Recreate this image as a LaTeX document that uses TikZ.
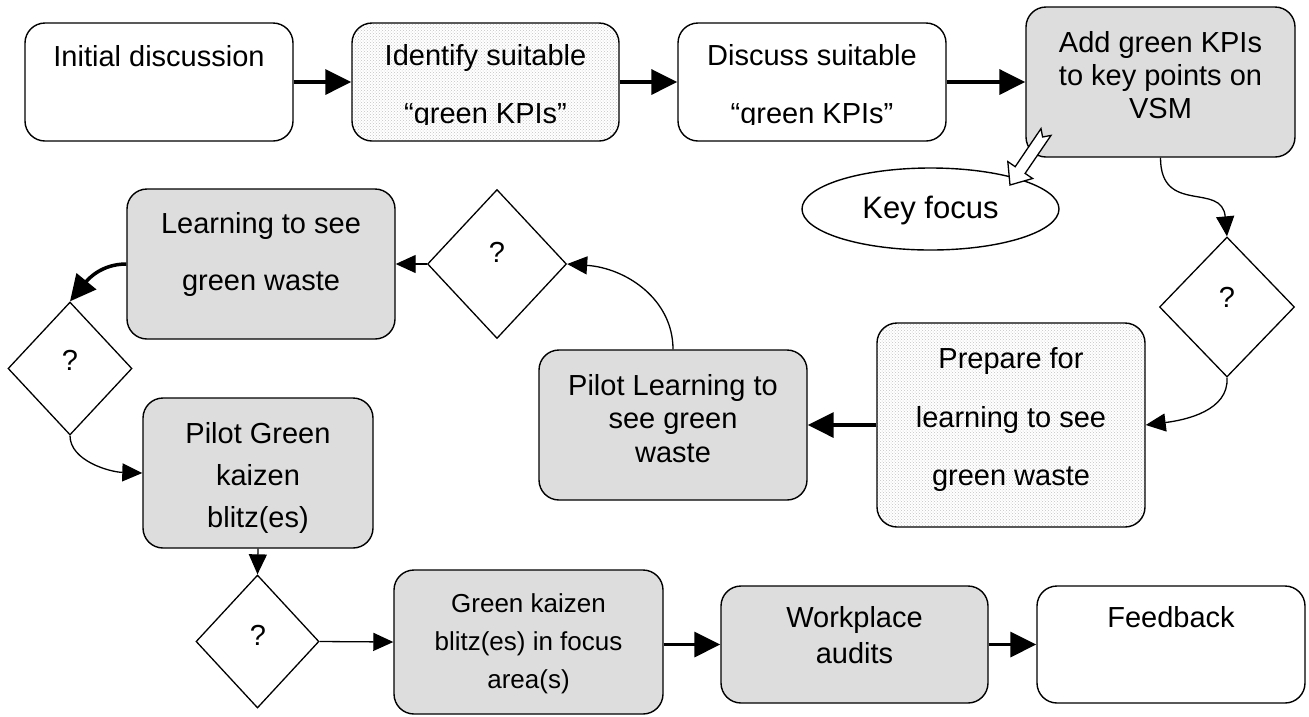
\documentclass[tikz,border=0pt]{standalone}
\usepackage{fontspec}
\setmainfont{Liberation Sans}
\usetikzlibrary{arrows.meta,shapes.geometric,patterns}

\definecolor{boxgray}{RGB}{221,221,221}
\definecolor{dotgray}{RGB}{195,195,195}

\begin{document}
\begin{tikzpicture}[x=1pt,y=-1pt,
  wh/.style 2 args={minimum width=#1pt, minimum height=#2pt},
  base/.style={draw=black, line width=1.4pt, rounded corners=20pt, inner sep=0pt},
  plainbox/.style={base, fill=white},
  greybox/.style={base, fill=boxgray},
  dotbox/.style={base, pattern=crosshatch dots, pattern color=dotgray},
  decision/.style={draw=black, line width=1.3pt, shape=diamond, inner sep=0pt},
  txt/.style={font=\fontsize{29}{33}\selectfont, inner sep=0pt, anchor=base},
  smalltxt/.style={txt, font=\fontsize{26}{30}\selectfont},
  bigtxt/.style={txt, font=\fontsize{31}{35}\selectfont},
  heavy/.style={line width=3.5pt, -{Triangle[length=26pt,width=25pt]}},
  light/.style={line width=1.3pt, -{Triangle[length=20pt,width=18pt]}},
]
\useasboundingbox (0,0) rectangle (1309,716);

% ---- process steps ----
\node[plainbox, wh={268}{118}] (A)  at (159,82) {};
\node[dotbox,   wh={267}{118}] (B)  at (485.5,82) {};
\node[plainbox, wh={268}{118}] (C)  at (812,82) {};
\node[greybox,  wh={269}{150}] (D)  at (1160.5,82) {};
\node[greybox,  wh={268}{150}] (LS) at (261,264) {};
\node[greybox,  wh={268}{150}] (PL) at (673,425) {};
\node[dotbox,   wh={268}{204}] (PR) at (1011,425) {};
\node[greybox,  wh={230}{150}] (PG) at (258,473) {};
\node[greybox,  wh={269}{144}] (GK) at (528.5,642) {};
\node[greybox,  wh={267}{117}] (WA) at (854.5,644.5) {};
\node[plainbox, wh={268}{117}] (FB) at (1171,644.5) {};

% ---- decisions ----
\node[decision, wh={124}{133}] (Q1) at (70,368.5) {};
\node[decision, wh={139}{149}] (Q2) at (497,264) {};
\node[decision, wh={135}{140}] (Q3) at (1227,307) {};
\node[decision, wh={123}{133}] (Q4) at (257.5,641.5) {};

% ---- key focus ----
\node[draw=black, line width=1.4pt, ellipse, inner sep=0pt, wh={257}{82}] (KF) at (930.5,209) {};
\node[bigtxt] (KFt) at (930.5,218) {Key focus};

% ---- labels ----
\node[txt] (At) at (159,66) {Initial discussion};
\node[txt] (Bt1) at (485.5,65) {Identify suitable};
\node[txt] (Ct1) at (812,65) {Discuss suitable};
\begin{scope}
  \clip (352,90) rectangle (946,124.5);
  \node[txt] (Bt2) at (485.5,123) {“green KPIs”};
  \node[txt] (Ct2) at (812,123) {“green KPIs”};
\end{scope}
\node[txt] (Dt1) at (1160.5,52) {Add green KPIs};
\node[txt] (Dt2) at (1160.5,85) {to key points on};
\node[txt] (Dt3) at (1160.5,118) {VSM};
\node[txt] (LSt1) at (261,233) {Learning to see};
\node[txt] (LSt2) at (261,290) {green waste};
\node[txt] (PLt1) at (673,395) {Pilot Learning to};
\node[txt] (PLt2) at (673,428) {see green};
\node[txt] (PLt3) at (673,462) {waste};
\node[txt] (PRt1) at (1011,368) {Prepare for};
\node[txt] (PRt2) at (1011,427) {learning to see};
\node[txt] (PRt3) at (1011,485) {green waste};
\node[txt] (PGt1) at (258,443) {Pilot Green};
\node[txt] (PGt2) at (258,485) {kaizen};
\node[txt] (PGt3) at (258,527) {blitz(es)};
\node[smalltxt] (GKt1) at (528.5,612) {Green kaizen};
\node[smalltxt] (GKt2) at (528.5,650) {blitz(es) in focus};
\node[smalltxt] (GKt3) at (528.5,688) {area(s)};
\node[txt] (WAt1) at (854.5,627) {Workplace};
\node[txt] (WAt2) at (854.5,663) {audits};
\node[txt] (FBt) at (1171,627) {Feedback};
\node[txt] (Q1t) at (70,370) {?};
\node[txt] (Q2t) at (497,262) {?};
\node[txt] (Q3t) at (1227,307) {?};
\node[txt] (Q4t) at (258,645) {?};

% ---- hollow pointer from the VSM step to the key focus ----
\draw[line width=1.3pt, fill=white, line join=miter]
  (1041.0,128.6) -- (1042.6,137.0) -- (1051.0,135.4) -- (1025.1,173.4)
  -- (1032.6,178.5) -- (1010,185) -- (1007.8,161.6) -- (1015.2,166.7) -- cycle;

% ---- connectors ----
\draw[heavy] (A) -- (B);
\draw[heavy] (B) -- (C);
\draw[heavy] (C) -- (D);
\draw[light] (D.south) .. controls +(0,58) and +(-5,-55) .. (Q3.north);
\draw[light] (Q3.south) .. controls +(2,33) and +(40,-5) .. (PR.east);
\draw[heavy] (PR) -- (PL);
\draw[light] (PL.north) .. controls +(0,-50) and +(59,4) .. (Q2.east);
\draw[light] (Q2.west) -- (LS.east);
\draw[heavy] (LS.west) .. controls +(-25,0) and +(18,-22) .. (Q1.north);
\draw[light] (Q1.south) .. controls +(0,25) and +(-33,-1) .. (PG.west);
\draw[light] (PG.south) -- (Q4.north);
\draw[light] (Q4.east) -- (GK.west);
\draw[heavy] (WA.west -| GK.east) -- (WA.west);
\draw[heavy] (WA) -- (FB);
\end{tikzpicture}
\end{document}
